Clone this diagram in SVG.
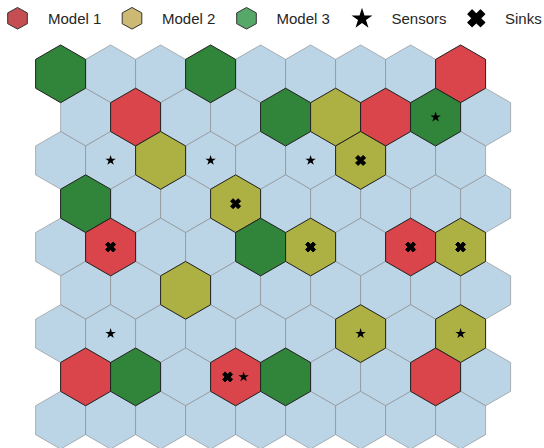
<svg xmlns="http://www.w3.org/2000/svg" xmlns:xlink="http://www.w3.org/1999/xlink" width="544" height="448" viewBox="0 0 544 448">
<style>
.L{fill:#bcd5e6;stroke:#808080;stroke-opacity:0.55;stroke-width:1}
.R{fill:#d9454a;stroke:#222;stroke-width:1}
.O{fill:#adb144;stroke:#222;stroke-width:1}
.G{fill:#31853a;stroke:#222;stroke-width:1}
.lg{font-family:"Liberation Sans",Arial,sans-serif;font-size:15px;fill:#262626}
.mk{fill:#000}
.xk{fill:#000;stroke:#000;stroke-width:1;stroke-linejoin:round}
</style>
<defs>
<polygon id="hex" points="0,-28.87 25,-14.43 25,14.43 0,28.87 -25,14.43 -25,-14.43"/>
<polygon id="lhex" points="0,-10.8 9.8,-5.4 9.8,5.4 0,10.8 -9.8,5.4 -9.8,-5.4"/>
<path id="star" d="M0,-5.5 L1.235,-1.7 L5.231,-1.7 L1.998,0.649 L3.233,4.45 L0,2.101 L-3.233,4.45 L-1.998,0.649 L-5.231,-1.7 L-1.235,-1.7 Z"/>
<path id="sink" d="M2.5,0 L5,2.5 L2.5,5 L0,2.5 L-2.5,5 L-5,2.5 L-2.5,0 L-5,-2.5 L-2.5,-5 L0,-2.5 L2.5,-5 L5,-2.5 Z"/>
</defs>
<rect width="544" height="448" fill="#fff"/>
<g id="legend">
<g id="legend-model1"><use xlink:href="#lhex" x="17.5" y="18.3" fill="#c44e52" stroke="#333" stroke-width="1"/><text class="lg" x="48" y="24">Model 1</text></g>
<g id="legend-model2"><use xlink:href="#lhex" x="132" y="18.3" fill="#ccb974" stroke="#333" stroke-width="1"/><text class="lg" x="162" y="24">Model 2</text></g>
<g id="legend-model3"><use xlink:href="#lhex" x="246.5" y="18.3" fill="#55a868" stroke="#333" stroke-width="1"/><text class="lg" x="276.5" y="24">Model 3</text></g>
<g id="legend-sensors"><path class="mk" transform="translate(362,18.8) scale(2)" d="M0,-5.5 L1.235,-1.7 L5.231,-1.7 L1.998,0.649 L3.233,4.45 L0,2.101 L-3.233,4.45 L-1.998,0.649 L-5.231,-1.7 L-1.235,-1.7 Z"/><text class="lg" x="391.5" y="24">Sensors</text></g>
<g id="legend-sinks"><path fill="#000" stroke="#000" stroke-width="1.2" stroke-linejoin="round" d="M480.5,18.3 L484.7,22.5 L480.5,26.7 L476.3,22.5 L472.1,26.7 L467.9,22.5 L472.1,18.3 L467.9,14.1 L472.1,9.9 L476.3,14.1 L480.5,9.9 L484.7,14.1 Z"/><text class="lg" x="505" y="24">Sinks</text></g>
</g>
<g id="grid-light">
<g id="c0-1"><use xlink:href="#hex" class="L" x="110.6" y="73.8"/></g>
<g id="c0-2"><use xlink:href="#hex" class="L" x="160.6" y="73.8"/></g>
<g id="c0-4"><use xlink:href="#hex" class="L" x="260.6" y="73.8"/></g>
<g id="c0-5"><use xlink:href="#hex" class="L" x="310.6" y="73.8"/></g>
<g id="c0-6"><use xlink:href="#hex" class="L" x="360.6" y="73.8"/></g>
<g id="c0-7"><use xlink:href="#hex" class="L" x="410.6" y="73.8"/></g>
<g id="c1-0"><use xlink:href="#hex" class="L" x="85.6" y="117.1"/></g>
<g id="c1-2"><use xlink:href="#hex" class="L" x="185.6" y="117.1"/></g>
<g id="c1-3"><use xlink:href="#hex" class="L" x="235.6" y="117.1"/></g>
<g id="c1-8"><use xlink:href="#hex" class="L" x="485.6" y="117.1"/></g>
<g id="c2-0"><use xlink:href="#hex" class="L" x="60.6" y="160.4"/></g>
<g id="c2-1"><use xlink:href="#hex" class="L" x="110.6" y="160.4"/><use xlink:href="#star" class="mk" x="110.6" y="160.4"/></g>
<g id="c2-3"><use xlink:href="#hex" class="L" x="210.6" y="160.4"/><use xlink:href="#star" class="mk" x="210.6" y="160.4"/></g>
<g id="c2-4"><use xlink:href="#hex" class="L" x="260.6" y="160.4"/></g>
<g id="c2-5"><use xlink:href="#hex" class="L" x="310.6" y="160.4"/><use xlink:href="#star" class="mk" x="310.6" y="160.4"/></g>
<g id="c2-7"><use xlink:href="#hex" class="L" x="410.6" y="160.4"/></g>
<g id="c2-8"><use xlink:href="#hex" class="L" x="460.6" y="160.4"/></g>
<g id="c3-1"><use xlink:href="#hex" class="L" x="135.6" y="203.7"/></g>
<g id="c3-2"><use xlink:href="#hex" class="L" x="185.6" y="203.7"/></g>
<g id="c3-4"><use xlink:href="#hex" class="L" x="285.6" y="203.7"/></g>
<g id="c3-5"><use xlink:href="#hex" class="L" x="335.6" y="203.7"/></g>
<g id="c3-6"><use xlink:href="#hex" class="L" x="385.6" y="203.7"/></g>
<g id="c3-7"><use xlink:href="#hex" class="L" x="435.6" y="203.7"/></g>
<g id="c3-8"><use xlink:href="#hex" class="L" x="485.6" y="203.7"/></g>
<g id="c4-0"><use xlink:href="#hex" class="L" x="60.6" y="247"/></g>
<g id="c4-2"><use xlink:href="#hex" class="L" x="160.6" y="247"/></g>
<g id="c4-3"><use xlink:href="#hex" class="L" x="210.6" y="247"/></g>
<g id="c4-6"><use xlink:href="#hex" class="L" x="360.6" y="247"/></g>
<g id="c5-0"><use xlink:href="#hex" class="L" x="85.6" y="290.3"/></g>
<g id="c5-1"><use xlink:href="#hex" class="L" x="135.6" y="290.3"/></g>
<g id="c5-3"><use xlink:href="#hex" class="L" x="235.6" y="290.3"/></g>
<g id="c5-4"><use xlink:href="#hex" class="L" x="285.6" y="290.3"/></g>
<g id="c5-5"><use xlink:href="#hex" class="L" x="335.6" y="290.3"/></g>
<g id="c5-6"><use xlink:href="#hex" class="L" x="385.6" y="290.3"/></g>
<g id="c5-7"><use xlink:href="#hex" class="L" x="435.6" y="290.3"/></g>
<g id="c5-8"><use xlink:href="#hex" class="L" x="485.6" y="290.3"/></g>
<g id="c6-0"><use xlink:href="#hex" class="L" x="60.6" y="333.6"/></g>
<g id="c6-1"><use xlink:href="#hex" class="L" x="110.6" y="333.6"/><use xlink:href="#star" class="mk" x="110.6" y="333.6"/></g>
<g id="c6-2"><use xlink:href="#hex" class="L" x="160.6" y="333.6"/></g>
<g id="c6-3"><use xlink:href="#hex" class="L" x="210.6" y="333.6"/></g>
<g id="c6-4"><use xlink:href="#hex" class="L" x="260.6" y="333.6"/></g>
<g id="c6-5"><use xlink:href="#hex" class="L" x="310.6" y="333.6"/></g>
<g id="c6-7"><use xlink:href="#hex" class="L" x="410.6" y="333.6"/></g>
<g id="c7-2"><use xlink:href="#hex" class="L" x="185.6" y="376.9"/></g>
<g id="c7-5"><use xlink:href="#hex" class="L" x="335.6" y="376.9"/></g>
<g id="c7-6"><use xlink:href="#hex" class="L" x="385.6" y="376.9"/></g>
<g id="c7-8"><use xlink:href="#hex" class="L" x="485.6" y="376.9"/></g>
<g id="c8-0"><use xlink:href="#hex" class="L" x="60.6" y="420.2"/></g>
<g id="c8-1"><use xlink:href="#hex" class="L" x="110.6" y="420.2"/></g>
<g id="c8-2"><use xlink:href="#hex" class="L" x="160.6" y="420.2"/></g>
<g id="c8-3"><use xlink:href="#hex" class="L" x="210.6" y="420.2"/></g>
<g id="c8-4"><use xlink:href="#hex" class="L" x="260.6" y="420.2"/></g>
<g id="c8-5"><use xlink:href="#hex" class="L" x="310.6" y="420.2"/></g>
<g id="c8-6"><use xlink:href="#hex" class="L" x="360.6" y="420.2"/></g>
<g id="c8-7"><use xlink:href="#hex" class="L" x="410.6" y="420.2"/></g>
<g id="c8-8"><use xlink:href="#hex" class="L" x="460.6" y="420.2"/></g>
</g>
<g id="grid-models">
<g id="c0-0"><use xlink:href="#hex" class="G" x="60.6" y="73.8"/></g>
<g id="c0-3"><use xlink:href="#hex" class="G" x="210.6" y="73.8"/></g>
<g id="c0-8"><use xlink:href="#hex" class="R" x="460.6" y="73.8"/></g>
<g id="c1-1"><use xlink:href="#hex" class="R" x="135.6" y="117.1"/></g>
<g id="c1-4"><use xlink:href="#hex" class="G" x="285.6" y="117.1"/></g>
<g id="c1-5"><use xlink:href="#hex" class="O" x="335.6" y="117.1"/></g>
<g id="c1-6"><use xlink:href="#hex" class="R" x="385.6" y="117.1"/></g>
<g id="c1-7"><use xlink:href="#hex" class="G" x="435.6" y="117.1"/><use xlink:href="#star" class="mk" x="435.6" y="117.1"/></g>
<g id="c2-2"><use xlink:href="#hex" class="O" x="160.6" y="160.4"/></g>
<g id="c2-6"><use xlink:href="#hex" class="O" x="360.6" y="160.4"/><use xlink:href="#sink" class="xk" x="360.6" y="160.4"/></g>
<g id="c3-0"><use xlink:href="#hex" class="G" x="85.6" y="203.7"/></g>
<g id="c3-3"><use xlink:href="#hex" class="O" x="235.6" y="203.7"/><use xlink:href="#sink" class="xk" x="235.6" y="203.7"/></g>
<g id="c4-1"><use xlink:href="#hex" class="R" x="110.6" y="247"/><use xlink:href="#sink" class="xk" x="110.6" y="247"/></g>
<g id="c4-4"><use xlink:href="#hex" class="G" x="260.6" y="247"/></g>
<g id="c4-5"><use xlink:href="#hex" class="O" x="310.6" y="247"/><use xlink:href="#sink" class="xk" x="310.6" y="247"/></g>
<g id="c4-7"><use xlink:href="#hex" class="R" x="410.6" y="247"/><use xlink:href="#sink" class="xk" x="410.6" y="247"/></g>
<g id="c4-8"><use xlink:href="#hex" class="O" x="460.6" y="247"/><use xlink:href="#sink" class="xk" x="460.6" y="247"/></g>
<g id="c5-2"><use xlink:href="#hex" class="O" x="185.6" y="290.3"/></g>
<g id="c6-6"><use xlink:href="#hex" class="O" x="360.6" y="333.6"/><use xlink:href="#star" class="mk" x="360.6" y="333.6"/></g>
<g id="c6-8"><use xlink:href="#hex" class="O" x="460.6" y="333.6"/><use xlink:href="#star" class="mk" x="460.6" y="333.6"/></g>
<g id="c7-0"><use xlink:href="#hex" class="R" x="85.6" y="376.9"/></g>
<g id="c7-1"><use xlink:href="#hex" class="G" x="135.6" y="376.9"/></g>
<g id="c7-3"><use xlink:href="#hex" class="R" x="235.6" y="376.9"/><use xlink:href="#sink" class="xk" x="227.6" y="376.9"/><use xlink:href="#star" class="mk" x="243.6" y="376.9"/></g>
<g id="c7-4"><use xlink:href="#hex" class="G" x="285.6" y="376.9"/></g>
<g id="c7-7"><use xlink:href="#hex" class="R" x="435.6" y="376.9"/></g>
</g>
</svg>
